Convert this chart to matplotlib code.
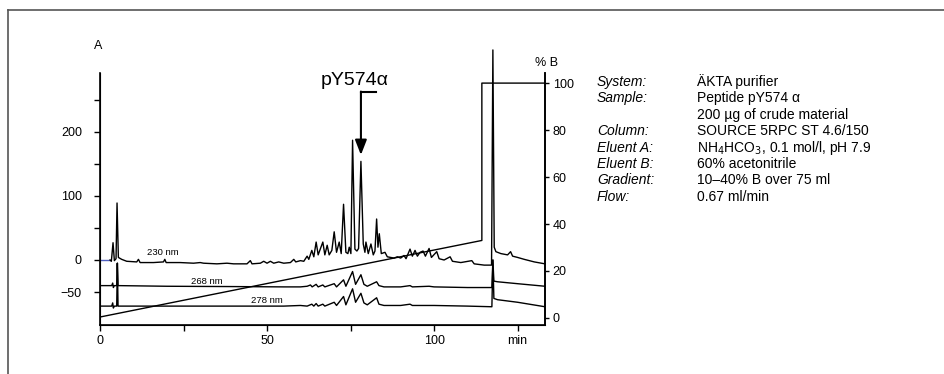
import matplotlib
matplotlib.use('Agg')
import matplotlib.pyplot as plt
from matplotlib.lines import Line2D

plt.rcParams['font.family'] = ['Liberation Sans', 'DejaVu Sans']

# --- chromatogram traces (time in min, absorbance in mAU) ---
t230 = [0, 3.0, 3.4, 3.9, 4.3, 4.8, 5.1, 5.5, 6.5, 8, 11, 11.5, 12, 16, 19, 19.4, 19.8,
        24, 28, 30, 31, 35, 38, 40, 44, 45, 45.5, 48, 49, 50, 51, 52, 53.5, 55, 57, 58,
        58.6, 60, 61, 62, 62.5, 63.4, 64, 64.7, 65.3, 66.7, 67.3, 68, 68.6, 69.4, 70.1,
        70.8, 71.6, 72.2, 72.9, 73.6, 74.2, 74.6, 75.1, 75.6, 76.3, 76.9, 77.4, 78.1,
        78.8, 79.3, 79.6, 80.3, 81.1, 81.8, 82.3, 82.8, 83.2, 83.6, 84.2, 85.3, 86, 88,
        89, 90, 91, 91.6, 92.8, 93.5, 94.3, 95, 95.8, 96.7, 97.4, 98.5, 99.2, 100.8,
        101.5, 103, 104.8, 105.5, 108, 111.3, 112, 115, 117.2, 117.6, 118.0, 118.5, 120,
        122, 122.9, 123.5, 125, 127, 130, 133.2]
a230 = [0, 0, -2, 27, -1, 2, 89, 4, 1, -2, -3, 1, -4, -4, -3, 1, -4,
        -4, -5, -4, -5, -6, -5, -6, -6, -1, -6, -5, -2, -5, -2, -5, -3, -5, -4, 1,
        -3, -1, -2, 6, 1, 15, 5, 28, 8, 28, 8, 23, 8, 15, 44,
        12, 28, 10, 87, 12, 10, 20, 10, 187, 17, 14, 18, 154,
        25, 12, 28, 10, 25, 8, 14, 64, 20, 41, 10, 12, 5, 3,
        5, 3, 7, 2, 17, 6, 15, 6, 12, 14, 6, 18, 4, 13,
        2, 0, 5, -2, -4, -1, -6, -8, -8, 328, 20, 13, 10,
        8, 13, 6, 4, 1, -3, -6]

t268 = [0, 3.5, 3.8, 4.0, 4.3, 5.0, 5.2, 5.4, 20, 40, 55, 60, 62, 63, 63.5, 64.7, 65.3,
        66.7, 67.3, 70.1, 70.8, 72.9, 73.6, 75.6, 76.5, 78.1, 79, 80, 82.8, 83.5, 85, 90,
        92.8, 93.5, 98.5, 100, 110, 117.3, 117.6, 117.9, 119, 125, 133.2]
a268 = [-40, -40, -36, -43, -40, -40, -5, -40, -41, -41.5, -42, -42, -41, -39, -42, -38, -42,
        -39, -42, -37, -42, -31, -41, -18, -38, -23, -38, -41, -34, -40, -42, -42,
        -40, -42, -41, -42, -43, -43, 0, -33, -34, -37, -41]

t278 = [0, 3.5, 3.8, 4.0, 4.3, 5.0, 5.2, 5.4, 20, 45, 55, 60, 62, 63.4, 64, 64.7, 65.3,
        66.7, 67.3, 70.1, 70.8, 72.9, 73.6, 75.6, 76.5, 78.1, 79, 80, 82.8, 83.5, 85, 90,
        92.8, 93.5, 100, 110, 117.3, 117.6, 117.9, 119, 125, 133.2]
a278 = [-72, -72, -67, -75, -72, -72, -5, -72, -72, -72, -72, -71, -72, -69, -72, -68, -72,
        -69, -72, -66, -71, -57, -70, -45, -66, -52, -67, -70, -59, -69, -71, -71,
        -69, -71, -71, -72, -73, 0, -60, -62, -66, -73]

# gradient (% B)
t_grad = [0, 114.3, 114.3, 133.2]
pct_b = [0.4, 33, 100, 100]

x_ticks = [0, 25, 50, 75, 100, 125]
x_labels = ['0', '', '50', '', '100', 'min']
y_ticks = [-50, 0, 50, 100, 150, 200, 250]
y_labels = ['\u221250', '0', '', '100', '', '200', '']
b_ticks = [0, 20, 40, 60, 80, 100]

info_keys = ['System:', 'Sample:', '', 'Column:', 'Eluent A:', 'Eluent B:', 'Gradient:', 'Flow:']
info_vals = ['ÄKTA purifier', 'Peptide pY574 \u03b1', '200 \u00b5g of crude material',
             'SOURCE 5RPC ST 4.6/150', r'NH$_4$HCO$_3$, 0.1 mol/l, pH 7.9',
             '60% acetonitrile', '10\u201340% B over 75 ml', '0.67 ml/min']

fig = plt.figure(figsize=(9.44, 3.74), dpi=100)

# outer frame (only the left and top edges fall inside the picture)
fig.add_artist(Line2D([8/944, 8/944], [0, 1 - 10/374], color='#555555', lw=1.2))
fig.add_artist(Line2D([8/944, 1], [1 - 10/374, 1 - 10/374], color='#555555', lw=1.2))

ax = fig.add_axes([100/944, 1 - 325/374, 445/944, 252/374])
ax.plot(t230[:2], a230[:2], color='#5060c0', lw=1.0)
ax.plot(t230[1:], a230[1:], color='k', lw=1.0, clip_on=False)
ax.plot(t268, a268, color='k', lw=1.0)
ax.plot(t278, a278, color='k', lw=1.0)

ax.set_xlim(0, 133.2)
ax.set_ylim(-101.5, 292)
ax.spines['top'].set_visible(False)
for s in ['left', 'right', 'bottom']:
    ax.spines[s].set_linewidth(1.2)
ax.set_xticks(x_ticks)
ax.set_xticklabels(x_labels)
ax.set_yticks(y_ticks)
ax.set_yticklabels(y_labels)
ax.tick_params(axis='x', direction='out', length=4, width=1, labelsize=9, pad=3)
ax.tick_params(axis='y', direction='out', length=4, width=1, labelsize=9, pad=9)

ax.text(18.9, 11, '230 nm', fontsize=6.8, ha='center', va='center')
ax.text(32, -33, '268 nm', fontsize=6.8, ha='center', va='center')
ax.text(50, -62.5, '278 nm', fontsize=6.8, ha='center', va='center')

# peak label and arrow
ax.text(76.3, 281, 'pY574\u03b1', fontsize=14, ha='center', va='center')
ax.plot([82.6, 78.1], [262, 262], color='k', lw=1.5)
ax.annotate('', xy=(78.1, 164), xytext=(78.1, 263),
            arrowprops=dict(arrowstyle='-|>,head_width=0.35,head_length=0.9',
                            lw=1.5, color='k', shrinkA=0, shrinkB=0))

ax2 = ax.twinx()
ax2.plot(t_grad, pct_b, color='k', lw=1.0)
ax2.set_ylim(-3, 104.3)
ax2.spines['top'].set_visible(False)
ax2.spines['right'].set_linewidth(1.2)
ax2.set_yticks(b_ticks)
ax2.tick_params(axis='y', direction='out', length=3, width=1, labelsize=9, pad=2.5)

fig.text(98/944, 1 - 46/374, 'A', fontsize=9, ha='center', va='center')
fig.text(547/944, 1 - 63/374, '% B', fontsize=9, ha='center', va='center')

y0 = 82
for i, (k, v) in enumerate(zip(info_keys, info_vals)):
    y = 1 - (y0 + i * 16.4) / 374
    fig.text(597/944, y, k, fontsize=10, style='italic', ha='left', va='center')
    fig.text(697/944, y, v, fontsize=10, ha='left', va='center')

plt.savefig('out.png', dpi=100)
